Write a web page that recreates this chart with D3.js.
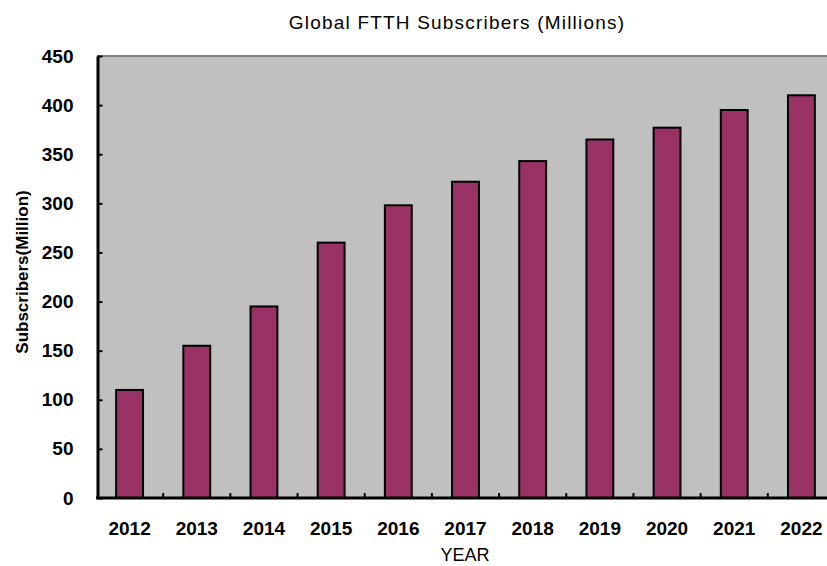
<!DOCTYPE html>
<html>
<head>
<meta charset="utf-8">
<script src="https://cdn.jsdelivr.net/npm/d3@7"></script>
<style>
  html, body { margin: 0; padding: 0; background: #fff; }
  svg { display: block; font-family: "Liberation Sans", Arial, sans-serif; }
</style>
</head>
<body>
<div id="chart"></div>
<script>
// Data
const years = ["2012","2013","2014","2015","2016","2017","2018","2019","2020","2021","2022"];
const subscribers = [110, 155, 195, 260, 298, 322, 343, 365, 377, 395, 410];
const yTicks = [0, 50, 100, 150, 200, 250, 300, 350, 400, 450];

const width = 827, height = 566;
// plot area (right edge runs past the window like in the original)
const plot = { left: 96, top: 56, right: 835, bottom: 498 };

const svg = d3.select('#chart').append('svg')
  .attr('width', width)
  .attr('height', height);

const x = d3.scaleBand()
  .domain(years)
  .range([plot.left, plot.right])
  .paddingInner(0.6)
  .paddingOuter(0.3);

const y = d3.scaleLinear()
  .domain([0, 450])
  .range([plot.bottom, plot.top]);

// grey plot background + top border
svg.append('rect')
  .attr('x', plot.left + 1)
  .attr('y', plot.top)
  .attr('width', plot.right - plot.left)
  .attr('height', plot.bottom - plot.top)
  .attr('fill', '#c0c0c0');

svg.append('line')
  .attr('x1', plot.left + 1).attr('x2', width)
  .attr('y1', plot.top).attr('y2', plot.top)
  .attr('stroke', '#808080')
  .attr('stroke-width', 2);

// bars
svg.append('g')
  .selectAll('rect')
  .data(years.map((yr, i) => ({ year: yr, value: subscribers[i] })))
  .join('rect')
    .attr('x', d => x(d.year))
    .attr('y', d => y(d.value))
    .attr('width', x.bandwidth())
    .attr('height', d => y(0) - y(d.value))
    .attr('fill', '#993366')
    .attr('stroke', '#000')
    .attr('stroke-width', 2);

// y axis, ticks pointing into the plot
const yAxis = svg.append('g')
  .attr('transform', `translate(${plot.left + 1.5},0)`)
  .call(d3.axisLeft(y).tickValues(yTicks).tickSize(-5).tickSizeOuter(0).tickPadding(24));
yAxis.select('.domain').attr('stroke-width', 3);
yAxis.selectAll('.tick line').attr('stroke-width', 2);
yAxis.selectAll('.tick text')
  .attr('font-size', 19)
  .attr('font-weight', 'bold')
  .attr('fill', '#000');

// x axis: labels centred in categories
const xAxis = svg.append('g')
  .attr('transform', `translate(0,${plot.bottom})`)
  .call(d3.axisBottom(x).tickSize(0).tickPadding(24));
xAxis.select('.domain').remove();
xAxis.selectAll('.tick text')
  .attr('font-size', 19)
  .attr('font-weight', 'bold')
  .attr('fill', '#000');

// category boundary ticks, pointing up
const step = x.step();
svg.append('g')
  .selectAll('line')
  .data(years.slice(1))
  .join('line')
    .attr('x1', d => x(d) - step * 0.3)
    .attr('x2', d => x(d) - step * 0.3)
    .attr('y1', plot.bottom)
    .attr('y2', plot.bottom - 5)
    .attr('stroke', '#000')
    .attr('stroke-width', 2);

svg.append('line')
  .attr('x1', plot.left).attr('x2', width)
  .attr('y1', plot.bottom).attr('y2', plot.bottom)
  .attr('stroke', '#000')
  .attr('stroke-width', 3);

// titles
svg.append('text')
  .attr('x', 457)
  .attr('y', 28.5)
  .attr('text-anchor', 'middle')
  .attr('font-size', 19)
  .attr('letter-spacing', 1.2)
  .text('Global FTTH Subscribers (Millions)');

svg.append('text')
  .attr('x', 465)
  .attr('y', 561)
  .attr('text-anchor', 'middle')
  .attr('font-size', 18)
  .text('YEAR');

svg.append('text')
  .attr('transform', 'translate(28,272) rotate(-90)')
  .attr('text-anchor', 'middle')
  .attr('font-size', 17)
  .attr('font-weight', 'bold')
  .text('Subscribers(Million)');
</script>
</body>
</html>
